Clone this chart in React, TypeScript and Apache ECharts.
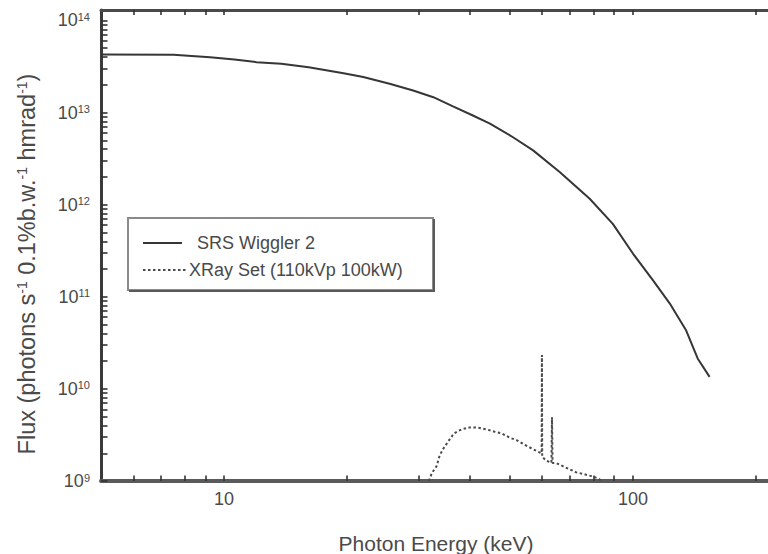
import React, { useEffect, useRef } from "react";
import * as echarts from "echarts";

// ---- data ----
const srsEnergy = [5.0, 7.52, 9.24, 10.6, 12.0, 13.8, 16.1, 19.6, 21.9, 25.4, 29.0, 32.5, 36.3, 40.6, 44.7, 50.9, 57.0, 66.2, 78.4, 89.3, 100, 112, 123, 135, 144, 154];
const srsFlux = [4.28e13, 4.25e13, 4.0e13, 3.78e13, 3.53e13, 3.39e13, 3.11e13, 2.68e13, 2.43e13, 2.06e13, 1.74e13, 1.47e13, 1.17e13, 9.3e12, 7.6e12, 5.4e12, 3.89e12, 2.26e12, 1.16e12, 6.2e11, 2.95e11, 1.51e11, 8.5e10, 4.3e10, 2.14e10, 1.35e10];

const xrayEnergy = [31.7, 32.2, 33.1, 33.6, 34.2, 35.3, 36.5, 38.1, 39.9, 41.6, 43.8, 45.9, 47.7, 50.0, 51.9, 54.1, 56.5, 58.6, 59.8, 59.9, 60.0, 61.4, 63.2, 63.4, 63.6, 65.0, 67.4, 70.0, 72.7, 75.8, 79.1, 82.1, 84.0];
const xrayFlux = [1.0e9, 1.21e9, 1.45e9, 1.83e9, 2.17e9, 2.67e9, 3.29e9, 3.64e9, 3.82e9, 3.82e9, 3.64e9, 3.43e9, 3.29e9, 2.95e9, 2.78e9, 2.5e9, 2.26e9, 2.08e9, 2.0e9, 2.33e10, 1.83e9, 1.66e9, 1.58e9, 4.91e9, 1.57e9, 1.56e9, 1.45e9, 1.34e9, 1.24e9, 1.19e9, 1.13e9, 1.07e9, 1.0e9];

const xMin = 5;
const xMax = 214;
const yMin = 1e9;
const yMax = 1.3e14;

const xTickValues = [6, 7, 8, 9, 10, 20, 30, 40, 50, 60, 70, 80, 90, 100, 200];
const xLabelValues = [10, 100];
const yTickMantissas = [1, 2, 3, 4, 5, 6, 7, 8, 9];
const yTickDecades = [9, 10, 11, 12, 13];
const yLabelValues = [1e9, 1e10, 1e11, 1e12, 1e13, 1e14];

const seriesNames = ["SRS Wiggler 2", "XRay Set (110kVp 100kW)"];
const xTitle = "Photon Energy (keV)";
const yTitleRich = "Flux (photons s{sup|-1} 0.1%b.w.{sup|-1} hmrad{sup|-1})";

const FONT = '"Liberation Sans", Arial, Helvetica, sans-serif';
const TEXT = "#4a4a4a";

function isPow10(v: number) {
  const e = Math.log10(v);
  return Math.abs(e - Math.round(e)) < 1e-6;
}

export default function App() {
  const ref = useRef<HTMLDivElement>(null);

  useEffect(() => {
    if (!ref.current) return;
    const chart = echarts.init(ref.current, null, { renderer: "svg" });

    const yTicks: number[] = [];
    yTickDecades.forEach((d) => yTickMantissas.forEach((m) => yTicks.push(m * Math.pow(10, d))));
    yTicks.push(yLabelValues[yLabelValues.length - 1]);

    const tickStyle = { color: "#333", width: 1.6 };

    const option: any = {
      animation: false,
      backgroundColor: "#ffffff",
      grid: { left: 101, top: 10, right: 0, bottom: 73, outerBoundsMode: "none" },
      xAxis: [
        {
          type: "log",
          min: xMin,
          max: xMax,
          axisLine: { show: true, onZero: false, lineStyle: { color: "#5a5a5a", width: 4 } },
          axisTick: { show: true, inside: true, length: 5.5, customValues: xTickValues, lineStyle: tickStyle },
          splitLine: { show: false },
          axisLabel: {
            margin: 9,
            color: TEXT,
            fontSize: 18,
            fontFamily: FONT,
            customValues: xLabelValues,
            formatter: (v: number) => (isPow10(v) ? String(Math.round(v)) : ""),
          },
        },
        {
          type: "log",
          position: "top",
          min: xMin,
          max: xMax,
          axisLine: { show: true, onZero: false, lineStyle: { color: "#4a4a4a", width: 3 } },
          axisTick: { show: true, inside: true, length: 5, customValues: xTickValues, lineStyle: tickStyle },
          axisLabel: { show: false },
          splitLine: { show: false },
        },
      ],
      yAxis: {
        type: "log",
        min: yMin,
        max: yMax,
        axisLine: { show: true, onZero: false, lineStyle: { color: "#3a3a3a", width: 3 } },
        axisTick: { show: true, inside: true, length: 6.5, customValues: yTicks, lineStyle: tickStyle },
        splitLine: { show: false },
        axisLabel: {
          margin: 11,
          customValues: yLabelValues,
          formatter: (v: number) => (isPow10(v) ? `{b|10}{s|${Math.round(Math.log10(v))}}` : ""),
          rich: {
            b: { fontSize: 18, color: TEXT, fontFamily: FONT },
            s: { fontSize: 11, color: TEXT, fontFamily: FONT, verticalAlign: "top" },
          },
        },
      },
      series: [
        {
          name: seriesNames[0],
          type: "line",
          showSymbol: false,
          data: srsEnergy.map((x, i) => [x, srsFlux[i]]),
          lineStyle: { color: "#363636", width: 2 },
          z: 3,
        },
        {
          name: seriesNames[1],
          type: "line",
          showSymbol: false,
          data: xrayEnergy.map((x, i) => [x, xrayFlux[i]]),
          lineStyle: { color: "#4a4a4a", width: 2, type: [2.5, 2.5] },
          z: 3,
        },
      ],
      graphic: [
        {
          type: "text",
          x: 436,
          y: 543,
          style: { text: xTitle, fontSize: 21, fontFamily: FONT, fill: TEXT, align: "center", verticalAlign: "middle" },
        },
        {
          type: "text",
          x: 27,
          y: 264,
          rotation: Math.PI / 2,
          style: {
            text: yTitleRich,
            fontSize: 23.5,
            fontFamily: FONT,
            fill: TEXT,
            align: "center",
            verticalAlign: "middle",
            rich: { sup: { fontSize: 14, fontFamily: FONT, fill: TEXT, verticalAlign: "top" } },
          },
        },
        {
          type: "rect",
          shape: { x: 128, y: 218, width: 305, height: 72 },
          style: { fill: "#fff", stroke: "#8a8a8a", lineWidth: 2 },
          z: 10,
        },
        {
          type: "polyline",
          shape: { points: [[434, 219], [434, 291], [129, 291]] },
          style: { stroke: "#5a5a5a", lineWidth: 2, fill: null },
          z: 10,
        },
        {
          type: "line",
          shape: { x1: 143, y1: 243, x2: 182, y2: 243 },
          style: { stroke: "#363636", lineWidth: 2 },
          z: 11,
        },
        {
          type: "line",
          shape: { x1: 143, y1: 270, x2: 187, y2: 270 },
          style: { stroke: "#4a4a4a", lineWidth: 2, lineDash: [2.5, 2.5] },
          z: 11,
        },
        {
          type: "text",
          x: 197,
          y: 243,
          style: { text: seriesNames[0], fontSize: 18, fontFamily: FONT, fill: TEXT, verticalAlign: "middle" },
          z: 11,
        },
        {
          type: "text",
          x: 189,
          y: 270,
          style: { text: seriesNames[1], fontSize: 18, fontFamily: FONT, fill: TEXT, verticalAlign: "middle" },
          z: 11,
        },
      ],
    };

    chart.setOption(option);
    return () => chart.dispose();
  }, []);

  return (
    <div
      ref={ref}
      style={{ position: "absolute", left: 0, top: 0, width: 768, height: 554, background: "#fff" }}
    />
  );
}
